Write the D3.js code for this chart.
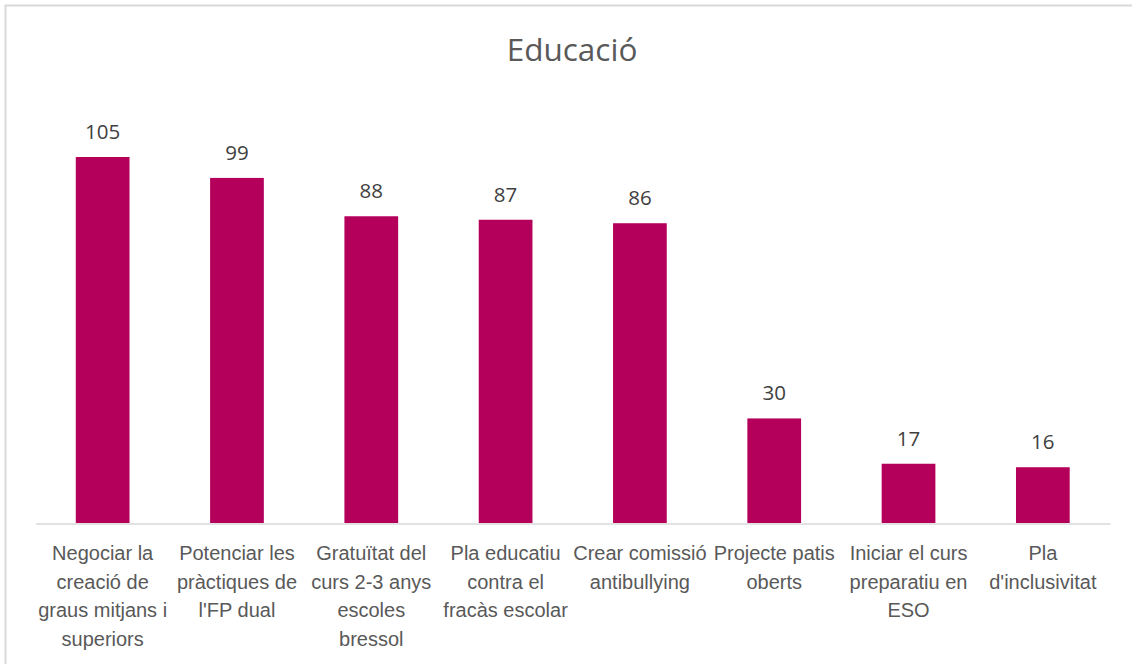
<!DOCTYPE html>
<html><head><meta charset="utf-8">
<script src="https://cdn.jsdelivr.net/npm/d3@7"></script>
<style>body{margin:0;background:#fff}svg{display:block}</style>
</head><body>
<script>
const categories = [
  ["Negociar la","creació de","graus mitjans i","superiors"],
  ["Potenciar les","pràctiques de","l'FP dual"],
  ["Gratuïtat del","curs 2-3 anys","escoles","bressol"],
  ["Pla educatiu","contra el","fracàs escolar"],
  ["Crear comissió","antibullying"],
  ["Projecte patis","oberts"],
  ["Iniciar el curs","preparatiu en","ESO"],
  ["Pla","d'inclusivitat"]
];
const values = [105, 99, 88, 87, 86, 30, 17, 16];
const title = "Educació";

const W = 1132, H = 664;
const svg = d3.select("body").append("svg").attr("width", W).attr("height", H);
svg.append("rect").attr("x",5.5).attr("y",5.5).attr("width",W+10).attr("height",H+10)
  .attr("fill","none").attr("stroke","#d9d9d9").attr("stroke-width",2);

const ids = categories.map((d,i)=>i);
const x = d3.scaleBand().domain(ids).range([35.5, 1110]).paddingInner(0.6).paddingOuter(0.3);
const y = d3.scaleLinear().domain([0, 105]).range([523, 157]);

svg.append("text").attr("x", 572).attr("y", 61).attr("text-anchor","middle")
  .attr("font-family","'Open Sans', sans-serif").attr("font-size",31.5).attr("fill","#595959").text(title);

svg.selectAll("rect.bar").data(values).enter().append("rect").attr("class","bar")
  .attr("x",(d,i)=>x(i)).attr("width",x.bandwidth())
  .attr("y",d=>y(d)).attr("height",d=>y(0)-y(d)).attr("fill","#B5005B");

svg.selectAll("text.val").data(values).enter().append("text").attr("class","val")
  .attr("x",(d,i)=>x(i)+x.bandwidth()/2).attr("y",d=>y(d)-18)
  .attr("text-anchor","middle").attr("font-family","'Open Sans', sans-serif")
  .attr("font-size",20.5).attr("fill","#404040").text(d=>d);

const axis = d3.axisBottom(x).tickSize(0).tickFormat("");
const ag = svg.append("g").attr("transform",`translate(0,${y(0)+0.5})`).call(axis);
ag.select(".domain").attr("stroke","#d9d9d9").attr("stroke-width",1.5);

const lab = svg.selectAll("text.cat").data(categories).enter().append("text").attr("class","cat")
  .attr("text-anchor","middle").attr("font-family","'Liberation Sans Narrow', 'Arial Narrow', sans-serif")
  .attr("font-size",20).attr("fill","#595959");
lab.each(function(lines,i){
  const t = d3.select(this);
  lines.forEach((l,j)=>{
    t.append("tspan").attr("x", x(i)+x.bandwidth()/2).attr("y", 560 + j*28.5).text(l);
  });
});
</script>
</body></html>
